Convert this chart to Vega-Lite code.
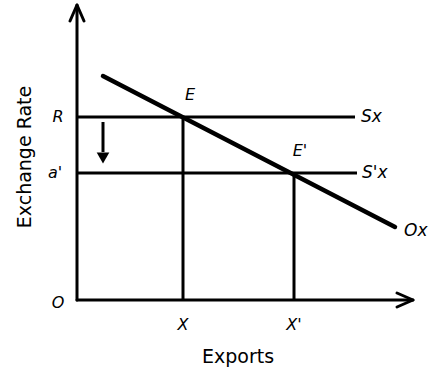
{
  "$schema": "https://vega.github.io/schema/vega-lite/v6.json",
  "width": 432,
  "height": 373,
  "padding": 0,
  "autosize": {"type": "fit", "contains": "padding"},
  "background": "white",
  "config": {"view": {"stroke": null}},
  "datasets": {
    "axes": [
      {"seg": "yaxis", "x": 0, "y": 0}, {"seg": "yaxis", "x": 0, "y": 294},
      {"seg": "yhead1", "x": -7, "y": 279}, {"seg": "yhead1", "x": 0, "y": 295},
      {"seg": "yhead2", "x": 0, "y": 295}, {"seg": "yhead2", "x": 7, "y": 279},
      {"seg": "xaxis", "x": 0, "y": 0}, {"seg": "xaxis", "x": 335, "y": 0},
      {"seg": "xhead1", "x": 320, "y": 7}, {"seg": "xhead1", "x": 336, "y": 0},
      {"seg": "xhead2", "x": 320, "y": -7}, {"seg": "xhead2", "x": 336, "y": 0}
    ],
    "guides": [
      {"seg": "Sx", "x": 0, "y": 183}, {"seg": "Sx", "x": 278, "y": 183},
      {"seg": "S'x", "x": 0, "y": 127}, {"seg": "S'x", "x": 280, "y": 127},
      {"seg": "X", "x": 106, "y": 183}, {"seg": "X", "x": 106, "y": 0},
      {"seg": "X'", "x": 217, "y": 127}, {"seg": "X'", "x": 217, "y": 0},
      {"seg": "shift", "x": 26, "y": 178}, {"seg": "shift", "x": 26, "y": 148}
    ],
    "demand": [
      {"x": 26, "y": 224}, {"x": 318, "y": 73}
    ],
    "heads": [
      {"x": 26, "y": 142}
    ],
    "pointLabels": [
      {"label": "R", "x": -19, "y": 183},
      {"label": "a'", "x": -22, "y": 127},
      {"label": "O", "x": -19, "y": -3},
      {"label": "E", "x": 113, "y": 205},
      {"label": "E'", "x": 223, "y": 149},
      {"label": "X", "x": 106, "y": -25},
      {"label": "X'", "x": 217, "y": -25}
    ],
    "curveLabels": [
      {"label": "Sx", "x": 284, "y": 183},
      {"label": "S'x", "x": 285, "y": 127},
      {"label": "Ox", "x": 327, "y": 69}
    ],
    "titles": [
      {"label": "Exports", "x": 161, "y": -57, "angle": 0},
      {"label": "Exchange Rate", "x": -52, "y": 143, "angle": 270}
    ]
  },
  "encoding": {
    "x": {"field": "x", "type": "quantitative", "scale": {"domain": [-77, 355], "nice": false, "zero": false}, "axis": null},
    "y": {"field": "y", "type": "quantitative", "scale": {"domain": [-73, 300], "nice": false, "zero": false}, "axis": null}
  },
  "layer": [
    {
      "data": {"name": "axes"},
      "mark": {"type": "line", "color": "black", "strokeWidth": 3, "strokeCap": "round", "strokeJoin": "round"},
      "encoding": {"detail": {"field": "seg"}}
    },
    {
      "data": {"name": "guides"},
      "mark": {"type": "line", "color": "black", "strokeWidth": 3, "strokeCap": "butt"},
      "encoding": {"detail": {"field": "seg"}}
    },
    {
      "data": {"name": "demand"},
      "mark": {"type": "line", "color": "black", "strokeWidth": 4.5, "strokeCap": "round"},
      "encoding": {}
    },
    {
      "data": {"name": "heads"},
      "mark": {"type": "point", "shape": "triangle-down", "filled": true, "color": "black", "size": 160, "opacity": 1},
      "encoding": {}
    },
    {
      "data": {"name": "pointLabels"},
      "mark": {"type": "text", "font": "DejaVu Sans", "fontStyle": "italic", "fontSize": 16, "color": "black", "align": "center", "baseline": "middle"},
      "encoding": {"text": {"field": "label"}}
    },
    {
      "data": {"name": "curveLabels"},
      "mark": {"type": "text", "font": "DejaVu Sans", "fontStyle": "italic", "fontSize": 17, "color": "black", "align": "left", "baseline": "middle"},
      "encoding": {"text": {"field": "label"}}
    },
    {
      "data": {"name": "titles"},
      "mark": {"type": "text", "font": "DejaVu Sans", "fontSize": 19, "color": "black", "align": "center", "baseline": "middle"},
      "encoding": {"text": {"field": "label"}, "angle": {"field": "angle", "type": "quantitative", "scale": null}}
    }
  ]
}
